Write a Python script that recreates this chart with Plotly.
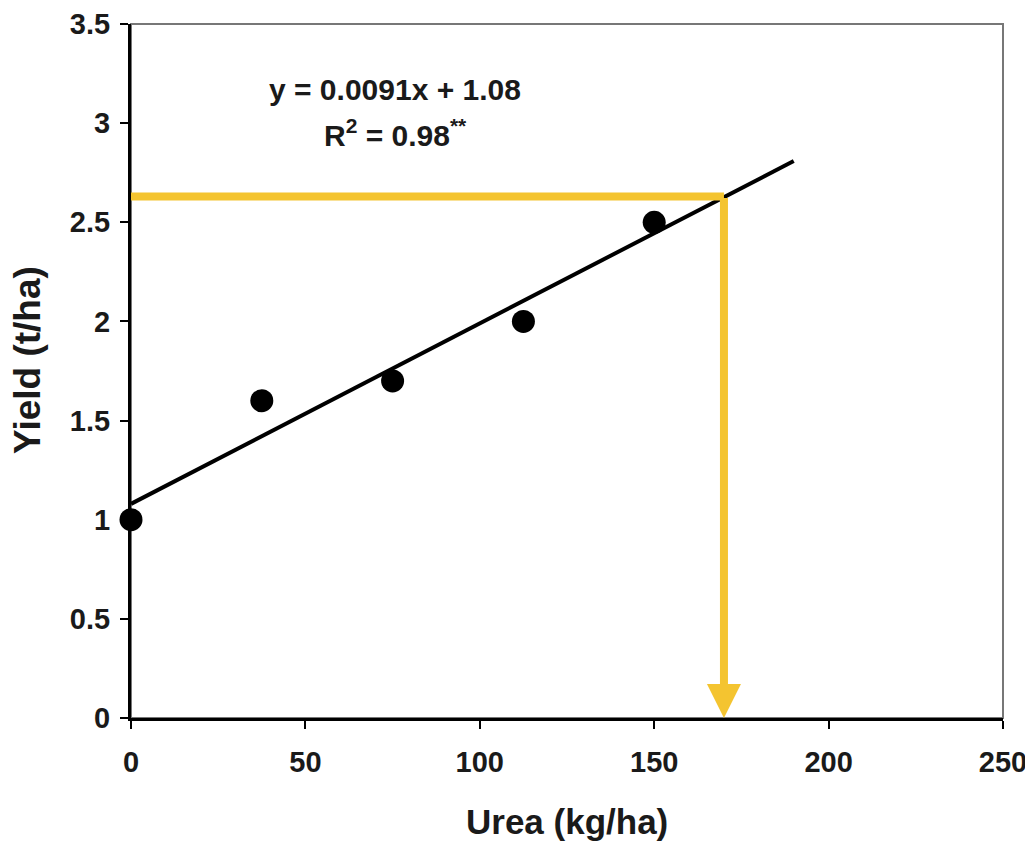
import plotly.graph_objects as go

urea = [0, 37.5, 75, 112.5, 150]
yield_t = [1.0, 1.6, 1.7, 2.0, 2.5]
slope = 0.0091
intercept = 1.08
trend_x = [0, 190]
target_x = 170
target_y = 2.63
x_ticks = [0, 50, 100, 150, 200, 250]
y_ticks = [0, 0.5, 1, 1.5, 2, 2.5, 3, 3.5]
yellow = "#F4C430"
font = "Liberation Sans"
txt = "#1a1a1a"

fig = go.Figure()
fig.add_trace(go.Scatter(x=trend_x, y=[slope * v + intercept for v in trend_x],
                         mode="lines", line=dict(color="black", width=4),
                         showlegend=False, hoverinfo="skip"))
fig.add_trace(go.Scatter(x=[0, target_x], y=[target_y, target_y], mode="lines",
                         line=dict(color=yellow, width=8), showlegend=False,
                         hoverinfo="skip", cliponaxis=False))
fig.add_trace(go.Scatter(x=urea, y=yield_t, mode="markers",
                         marker=dict(color="black", size=23), showlegend=False,
                         cliponaxis=False))
fig.add_annotation(x=target_x, y=0, ax=target_x, ay=target_y, xref="x", yref="y",
                   axref="x", ayref="y", showarrow=True, arrowcolor=yellow,
                   arrowwidth=8, arrowhead=2, arrowsize=0.85, text="")
fig.add_annotation(x=0.303, y=0.906, xref="paper", yref="paper", showarrow=False,
                   xanchor="center", yanchor="middle",
                   text="<b>y = 0.0091x + 1.08</b>",
                   font=dict(family=font, size=30, color=txt))
fig.add_annotation(x=0.303, y=0.843, xref="paper", yref="paper", showarrow=False,
                   xanchor="center", yanchor="middle",
                   text="<b>R<sup>2</sup> = 0.98<sup>**</sup></b>",
                   font=dict(family=font, size=30, color=txt))
# axis titles
fig.add_annotation(x=0.5, y=0, xref="paper", yref="paper", showarrow=False,
                   xanchor="center", yanchor="middle", yshift=-103,
                   text="<b>Urea (kg/ha)</b>", font=dict(family=font, size=35, color=txt))
fig.add_annotation(x=0, y=0.516, xref="paper", yref="paper", showarrow=False,
                   xanchor="center", yanchor="middle", xshift=-103, textangle=-90,
                   text="<b>Yield (t/ha)</b>", font=dict(family=font, size=37, color=txt))
fig.add_shape(type="rect", xref="paper", yref="paper", x0=0, y0=0, x1=1, y1=1,
              line=dict(color="#777", width=2), layer="below")

axis_common = dict(showgrid=False, zeroline=False, showline=True, linecolor="black",
                   linewidth=3, ticks="outside", ticklen=8, tickwidth=2, tickcolor="black",
                   automargin=False,
                   tickfont=dict(family=font, size=29, color=txt))
fig.update_xaxes(range=[0, 250], tickvals=x_ticks, ticktext=[f"<b>{v}</b>" for v in x_ticks],
                 ticklabelstandoff=8, **axis_common)
fig.update_yaxes(range=[0, 3.5], tickvals=y_ticks, ticktext=[f"<b>{v:g}</b>" for v in y_ticks],
                 ticklabelstandoff=4, **axis_common)
fig.update_layout(width=1025, height=835, margin=dict(l=123, r=30, t=16, b=125),
                  plot_bgcolor="white", paper_bgcolor="white",
                  font=dict(family=font))
fig.write_html("out.html")
